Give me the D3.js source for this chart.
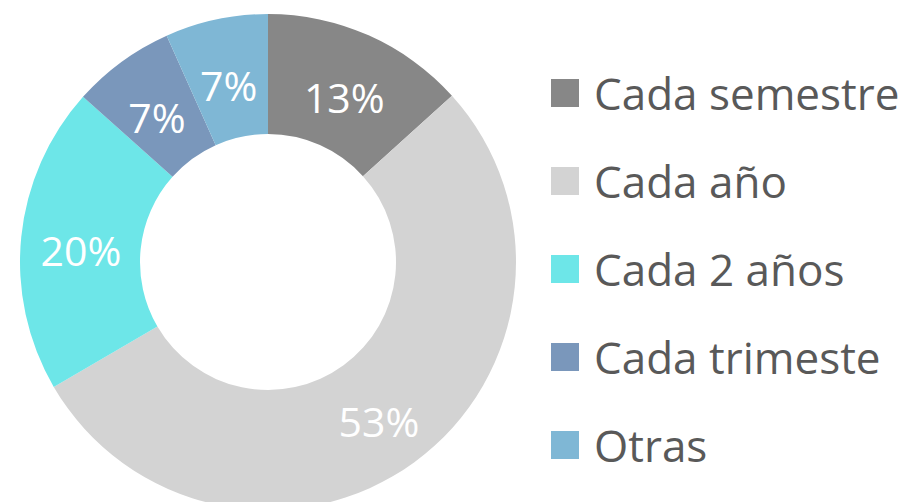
<!DOCTYPE html>
<html>
<head>
<meta charset="utf-8">
<script src="https://cdn.jsdelivr.net/npm/d3@7"></script>
<style>
  html, body { margin: 0; padding: 0; background: #fff; }
  svg { display: block; font-family: "Open Sans", "Noto Sans", sans-serif; }
</style>
</head>
<body>
<div id="chart"></div>
<script>
// data
const categories = ["Cada semestre", "Cada año", "Cada 2 años", "Cada trimeste", "Otras"];
const values = [13.3, 53.3, 20.0, 6.7, 6.7];
const colours = ["#878787", "#d3d3d3", "#6de6e8", "#7a97bb", "#7fb7d5"];

const width = 914;
const height = 502;

const cx = 268, cy = 262;
const outerR = 248, innerR = 128;

const svg = d3.select("#chart")
  .append("svg")
  .attr("width", width)
  .attr("height", height);

const colour = d3.scaleOrdinal().domain(categories).range(colours);

const pie = d3.pie().sort(null).value((d) => d.value);
const arc = d3.arc().innerRadius(innerR).outerRadius(outerR);

const data = categories.map((c, i) => ({ name: c, value: values[i] }));
const total = d3.sum(values);

const g = svg.append("g").attr("transform", `translate(${cx},${cy})`);

const slices = g.selectAll("g.slice")
  .data(pie(data))
  .join("g")
  .attr("class", "slice");

slices.append("path")
  .attr("d", arc)
  .attr("fill", (d) => colour(d.data.name));

// percentage labels, sitting on the ring centroid (a touch lower, like excel)
slices.append("text")
  .attr("transform", (d) => {
    const [x, y] = arc.centroid(d);
    return `translate(${x},${y + 7})`;
  })
  .attr("text-anchor", "middle")
  .attr("dominant-baseline", "central")
  .attr("fill", "#fff")
  .style("font-size", "41px")
  .text((d) => `${Math.round((d.data.value / total) * 100)}%`);

// legend
const legendY = d3.scalePoint()
  .domain(categories)
  .range([93, 445]);

const legend = svg.append("g")
  .selectAll("g")
  .data(categories)
  .join("g")
  .attr("transform", (d) => `translate(551,${legendY(d)})`);

legend.append("rect")
  .attr("x", 0)
  .attr("y", -14)
  .attr("width", 28)
  .attr("height", 28)
  .attr("fill", (d) => colour(d));

legend.append("text")
  .attr("x", 43)
  .attr("y", 0)
  .attr("dominant-baseline", "central")
  .attr("fill", "#595959")
  .style("font-size", "44px")
  .text((d) => d);
</script>
</body>
</html>
